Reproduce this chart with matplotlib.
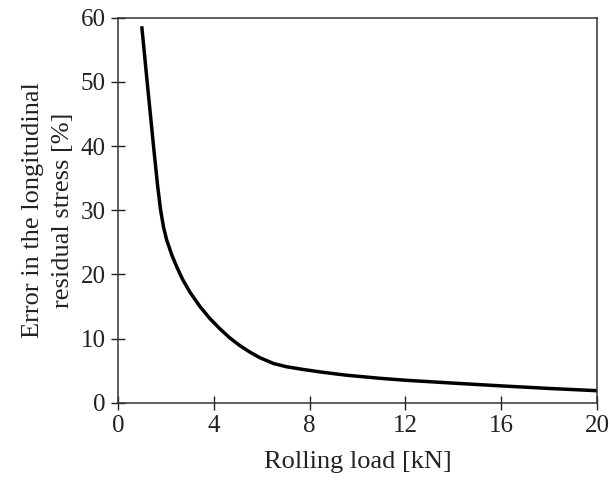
import matplotlib
matplotlib.use("Agg")
import matplotlib.pyplot as plt

# Rolling load [kN] vs error [%]
load = [1.0, 1.25, 1.5, 1.65, 1.78, 1.9, 2.03, 2.25, 2.45, 2.7, 3.01, 3.42, 3.84,
        4.26, 4.7, 5.09, 5.5, 5.93, 6.5, 7.04, 7.7, 8.43, 9.5, 10.94, 12.0, 14.0,
        16.0, 18.0, 20.0]
error = [58.4, 48.8, 39.4, 34.0, 30.0, 27.4, 25.4, 23.0, 21.2, 19.2, 17.2, 15.0, 13.1,
         11.5, 10.0, 8.9, 7.9, 7.0, 6.1, 5.6, 5.2, 4.8, 4.3, 3.8, 3.5, 3.05,
         2.62, 2.22, 1.87]

xticks = [0, 4, 8, 12, 16, 20]
yticks = [0, 10, 20, 30, 40, 50, 60]

plt.rcParams["font.family"] = ["Liberation Serif", "DejaVu Serif"]

fig = plt.figure(figsize=(6.1, 4.86), dpi=100)
ax = fig.add_axes([0.1934, 0.1714, 0.7853, 0.7922])

ax.plot(load, error, color="black", linewidth=2.5, solid_joinstyle="round")

ax.set_xlim(0, 20)
ax.set_ylim(0, 60)
ax.set_xticks(xticks)
ax.set_yticks(yticks)
ax.tick_params(direction="inout", length=10, width=1, labelsize=18, colors="#222222", pad=4)
for s in ax.spines.values():
    s.set_linewidth(1.1)
    s.set_color("#333333")

ax.set_xlabel("Rolling load [kN]", fontsize=19, labelpad=10, color="#222222")
ax.set_ylabel("Error in the longitudinal\nresidual stress [%]", fontsize=19,
              labelpad=5, linespacing=1.45, color="#222222")

fig.savefig("out.png", dpi=100)
